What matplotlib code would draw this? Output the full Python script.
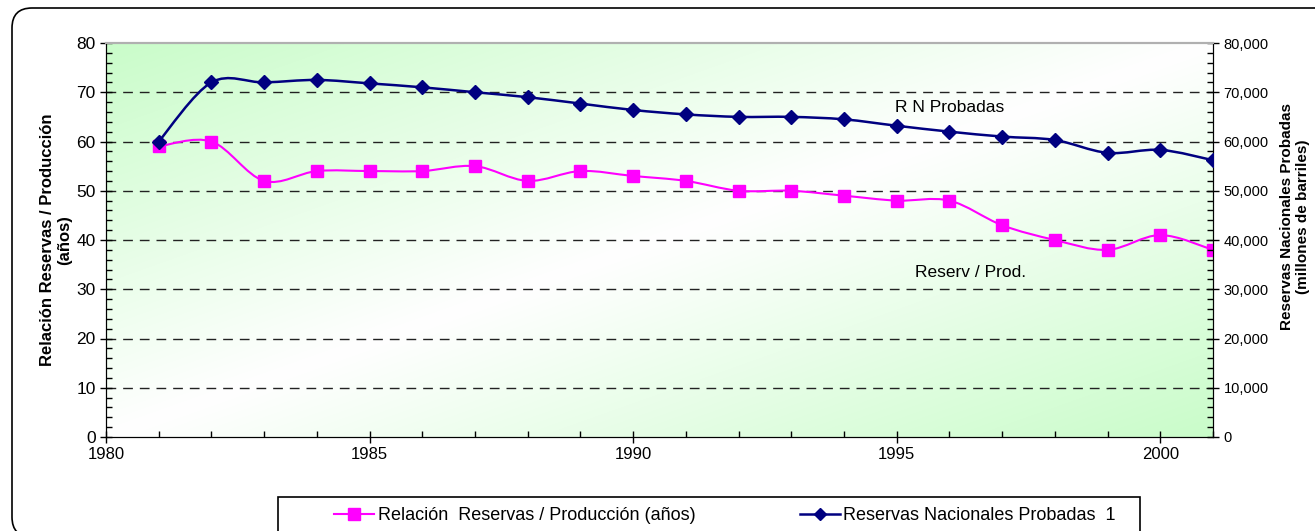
import numpy as np
import matplotlib.pyplot as plt
from matplotlib.path import Path
from matplotlib.patches import PathPatch, FancyBboxPatch, Rectangle
from matplotlib.lines import Line2D
from matplotlib.transforms import IdentityTransform
from matplotlib.ticker import MultipleLocator, FuncFormatter

plt.rcParams['font.family'] = ['Liberation Sans', 'DejaVu Sans']

# data
years = list(range(1981, 2002))
reserv_prod = [59, 60, 52, 54, 54, 54, 55, 52, 54, 53, 52, 50, 50, 49, 48, 48, 43, 40, 38, 41, 38]
reservas = [60000, 72000, 72000, 72500, 71800, 71000, 70000, 69000, 67700, 66400,
            65500, 65000, 65000, 64500, 63200, 62000, 61000, 60300, 57700, 58300, 56200]

PINK = '#ff00ff'
NAVY = '#000080'


def smooth_path(xs, ys):
    # excel style smoothed line: cubic bezier through every point
    pts = np.column_stack([xs, ys]).astype(float)
    n = len(pts)
    verts = [pts[0]]
    codes = [Path.MOVETO]
    for i in range(n - 1):
        p0 = pts[max(i - 1, 0)]
        p1 = pts[i]
        p2 = pts[i + 1]
        p3 = pts[min(i + 2, n - 1)]
        c1 = p1 + (p2 - p0) / 6.0
        c2 = p2 - (p3 - p1) / 6.0
        verts += [c1, c2, p2]
        codes += [Path.CURVE4] * 3
    return Path(verts, codes)


fig = plt.figure(figsize=(13.15, 5.31), dpi=100)
W, H = 1315, 531

# rounded outer frame
frame = FancyBboxPatch((12, -6), 1330, H - 8 + 6, boxstyle='round,pad=0,rounding_size=20',
                       transform=IdentityTransform(), fill=False, edgecolor='black', lw=1.2)
fig.patches.append(frame)

ax = fig.add_axes([106 / W, 1 - 437 / H, (1213 - 106) / W, (437 - 43) / H])
ax2 = ax.twinx()

# diagonal two-way gradient background
u, v = np.meshgrid(np.linspace(0, 1, 400), np.linspace(1, 0, 200))
t = np.abs(u - v)
green = np.array([0.79, 0.99, 0.79])
img = np.ones((200, 400, 3)) - t[..., None] * (1 - green)
ax.imshow(img, extent=[0, 1, 0, 1], transform=ax.transAxes, aspect='auto', zorder=0,
          interpolation='bilinear')

ax.set_xlim(1980, 2001)
ax.set_ylim(0, 80)
ax2.set_ylim(0, 80000)

for y in range(10, 80, 10):
    ax.axhline(y, color='#222222', lw=1, ls=(0, (7, 5)), zorder=1)

ax.add_patch(PathPatch(smooth_path(years, reserv_prod), fill=False, edgecolor=PINK, lw=1.5, zorder=3))
ax.plot(years, reserv_prod, ls='none', marker='s', ms=9, color=PINK, zorder=4)

ax2.add_patch(PathPatch(smooth_path(years, reservas), fill=False, edgecolor=NAVY, lw=1.8, zorder=3))
ax2.plot(years, reservas, ls='none', marker='D', ms=7.5, color=NAVY, zorder=4)

ax.text(1996.0, 67.0, 'R N Probadas', fontsize=12.5, ha='center', va='center', zorder=5)
ax.text(1996.4, 33.5, 'Reserv / Prod.', fontsize=12.5, ha='center', va='center', zorder=5)

# axes styling
ax.xaxis.set_major_locator(MultipleLocator(5))
ax.xaxis.set_minor_locator(MultipleLocator(1))
ax.yaxis.set_major_locator(MultipleLocator(10))
ax.yaxis.set_minor_locator(MultipleLocator(2))
ax2.yaxis.set_major_locator(MultipleLocator(10000))
ax2.yaxis.set_minor_locator(MultipleLocator(2000))
ax2.yaxis.set_major_formatter(FuncFormatter(lambda val, pos: f'{int(val):,}'))

ax.tick_params(axis='both', which='major', direction='inout', length=8, width=1, labelsize=12.5)
ax.tick_params(axis='both', which='minor', direction='in', length=4, width=1)
ax.tick_params(axis='x', which='major', pad=3, labelsize=12)
ax2.tick_params(axis='y', which='major', direction='inout', length=8, width=1, labelsize=10.5)
ax2.tick_params(axis='y', which='minor', direction='in', length=4, width=1)

for a in (ax, ax2):
    a.spines['top'].set_color('#b0b0b0')
    a.spines['top'].set_linewidth(1.5)
ax2.patch.set_visible(False)

ax.set_ylabel('Relación Reservas / Producción\n(años)', fontsize=12, fontweight='bold', linespacing=1.15)
ax.yaxis.set_label_coords(-0.031, 0.5)
ax2.set_ylabel('Reservas Nacionales Probadas\n(millones de barriles)', fontsize=11, fontweight='bold',
               linespacing=1.15)
ax2.yaxis.set_label_coords(1.0605, 0.56)

# legend with its own box, cut at the bottom like the reference
fig.patches.append(Rectangle((278, -5), 1140 - 278, H - 497 + 5, transform=IdentityTransform(),
                             fill=False, edgecolor='black', lw=1.2))
handles = [Line2D([], [], color=PINK, lw=1.5, marker='s', ms=8.5),
           Line2D([], [], color=NAVY, lw=1.8, marker='D', ms=6.5)]
labels = ['Relación  Reservas / Producción (años)', 'Reservas Nacionales Probadas  1']
fig.legend(handles, labels, loc='center', bbox_to_anchor=(725 / W, 1 - 516 / H), ncol=2,
           frameon=False, handlelength=2.2, handletextpad=0.2, columnspacing=5.8,
           prop={'size': 13})

fig.savefig('out.png', dpi=100)
